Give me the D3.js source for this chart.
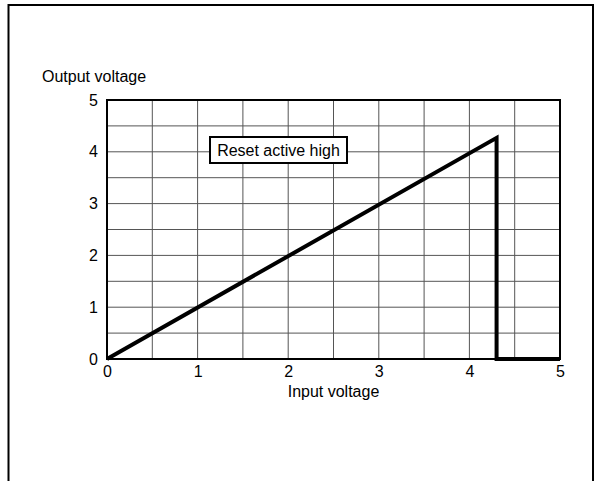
<!DOCTYPE html>
<html><head><meta charset="utf-8">
<script src="https://cdn.jsdelivr.net/npm/d3@7"></script>
<style>body{margin:0;background:#fff;}svg{display:block;font-family:"Liberation Sans",Arial,sans-serif;}</style>
</head><body>
<script>
const xTicks = [0,1,2,3,4,5];
const yTicks = [0,1,2,3,4,5];
const gridStep = [0,0.5,1,1.5,2,2.5,3,3.5,4,4.5,5];
const inputV  = [0, 4.3, 4.3, 5];
const outputV = [0, 4.27, 0, 0];
const noteText = "Reset active high";

const W=595,H=481,FS=16;
const svg=d3.select("body").append("svg").attr("width",W).attr("height",H);
svg.append("rect").attr("x",8.5).attr("y",5).attr("width",584.5).attr("height",490)
  .attr("fill","none").attr("stroke","#000").attr("stroke-width",2);

const x=d3.scaleLinear().domain([0,5]).range([107,560]);
const y=d3.scaleLinear().domain([0,5]).range([359,100]);

const g=svg.append("g");
g.selectAll(".gx").data(gridStep).enter().append("line")
  .attr("x1",d=>x(d)).attr("x2",d=>x(d)).attr("y1",y(0)).attr("y2",y(5))
  .attr("stroke","#555").attr("stroke-width",1);
g.selectAll(".gy").data(gridStep).enter().append("line")
  .attr("y1",d=>y(d)).attr("y2",d=>y(d)).attr("x1",x(0)).attr("x2",x(5))
  .attr("stroke","#555").attr("stroke-width",1);
g.append("rect").attr("x",x(0)).attr("y",y(5)).attr("width",x(5)-x(0)).attr("height",y(0)-y(5))
  .attr("fill","none").attr("stroke","#000").attr("stroke-width",2);

// axes
const xa=svg.append("g").attr("transform",`translate(0,${y(0)})`)
  .call(d3.axisBottom(x).tickValues(xTicks).tickSize(0).tickPadding(7).tickFormat(d3.format("d")));
xa.select(".domain").remove();
xa.selectAll("text").attr("font-size",FS).attr("fill","#000").attr("font-family","Liberation Sans, Arial, sans-serif");
const ya=svg.append("g").attr("transform",`translate(${x(0)},0)`)
  .call(d3.axisLeft(y).tickValues(yTicks).tickSize(0).tickPadding(9).tickFormat(d3.format("d")));
ya.select(".domain").remove();
ya.selectAll("text").attr("font-size",FS).attr("fill","#000").attr("font-family","Liberation Sans, Arial, sans-serif");

svg.append("text").attr("x",42).attr("y",82).attr("font-size",FS).text("Output voltage");
svg.append("text").attr("x",(x(0)+x(5))/2).attr("y",397).attr("text-anchor","middle").attr("font-size",FS).text("Input voltage");

// line
const pts=inputV.map((v,i)=>[v,outputV[i]]);
svg.append("path").datum(pts)
  .attr("d",d3.line().x(d=>x(d[0])).y(d=>y(d[1])))
  .attr("fill","none").attr("stroke","#000").attr("stroke-width",4).attr("stroke-linejoin","miter");

// note
const nb=svg.append("g");
nb.append("rect").attr("x",210).attr("y",137).attr("width",137).attr("height",26)
  .attr("fill","#fff").attr("stroke","#000").attr("stroke-width",2);
nb.append("text").attr("x",278.5).attr("y",156).attr("text-anchor","middle").attr("font-size",FS).text(noteText);
</script>
</body></html>
